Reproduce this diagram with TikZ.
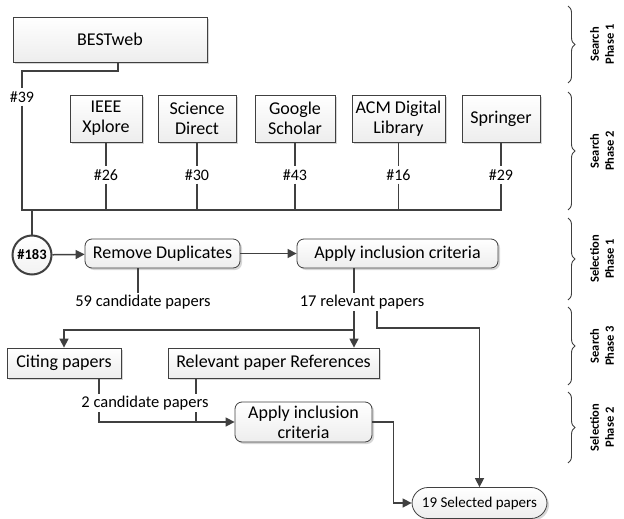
\documentclass[tikz,border=0pt]{standalone}
\usepackage{fontspec}
\setmainfont{Carlito}
\usetikzlibrary{arrows.meta,shadows,decorations.pathreplacing}
\definecolor{ln}{HTML}{404040}
\tikzset{
  x=1pt, y=-1pt,
  box/.style={draw=ln, line width=0.8pt, top color=white, bottom color=gray!14,
    drop shadow={shadow xshift=2pt, shadow yshift=-2pt, fill=gray!40, opacity=0.8},
    inner sep=0pt, align=center, font=\fontsize{18}{20}\selectfont},
  rbox/.style={box, rounded corners=7pt},
  lbl/.style={inner sep=2pt, font=\fontsize{16.5}{19}\selectfont},
  num/.style={inner sep=3pt, font=\fontsize{16}{19}\selectfont},
  conn/.style={draw=ln, line width=1.5pt},
  arr/.style={conn, -{Triangle[length=9pt,width=9pt]}},
  phase/.style={rotate=90, align=center, text=black, font=\bfseries\fontsize{12.5}{15}\selectfont},
  br/.style={draw=ln, line width=0.9pt, decorate, decoration={brace, amplitude=7pt}},
  circ/.style={draw=ln, line width=2pt, circle, minimum size=39pt, inner sep=0pt,
    top color=white, bottom color=gray!10, font=\bfseries\fontsize{14.5}{16}\selectfont}
}
\begin{document}
\begin{tikzpicture}
\useasboundingbox (0,0) rectangle (624,519);
% search phase 1
\node[box, minimum width=194pt, minimum height=45pt] (best) at (110,39.5) {BESTweb};
% search phase 2
\node[box, minimum width=72pt, minimum height=47pt] (ieee) at (106,118.5) {IEEE\\Xplore};
\node[box, minimum width=78pt, minimum height=47pt] (sd) at (197,118.5) {Science\\Direct};
\node[box, minimum width=80pt, minimum height=47pt] (gs) at (295,118.5) {Google\\Scholar};
\node[box, minimum width=93pt, minimum height=47pt] (acm) at (398.5,118.5) {ACM Digital\\Library};
\node[box, minimum width=78pt, minimum height=47pt] (spr) at (501,118.5) {Springer};
\node[num] (n39) at (22,97) {\#39};
\node[num] (n26) at (106,175) {\#26};
\node[num] (n30) at (197,175) {\#30};
\node[num] (n43) at (295,175) {\#43};
\node[num] (n16) at (398.5,175) {\#16};
\node[num] (n29) at (501,175) {\#29};
\coordinate (busL) at (22,210);
\coordinate (v0) at (118,71);
\draw[conn] (best.south -| v0) -- (v0) -| (n39.north);
\draw[conn] (n39.south) -- (busL) -| (n29.south);
\foreach \b/\n in {ieee/n26, sd/n30, gs/n43, acm/n16, spr/n29}{
  \draw[conn] (\b.south) -- (\n.north);
}
\foreach \n in {n26, n30, n43, n16}{
  \draw[conn] (\n.south) -- (\n.south |- busL);
}
% selection phase 1
\node[circ] (c183) at (32,255) {\#183};
\node[rbox, minimum width=155pt, minimum height=29pt] (rd) at (162.5,253.5) {Remove Duplicates};
\node[rbox, minimum width=201pt, minimum height=29pt] (ap1) at (397.5,253.5) {Apply inclusion criteria};
\draw[conn] (c183.north |- busL) -- (c183.north);
\draw[arr] (c183) -- (rd);
\draw[arr] (rd) -- (ap1);
\node[lbl] (n59) at (143,302) {59 candidate papers};
\node[lbl] (n17) at (362,302) {17 relevant papers};
\coordinate (v59) at (138,0);
\draw[conn] (rd.south -| v59) -- (n59.north -| v59);
% search phase 3
\node[box, minimum width=114pt, minimum height=30pt] (cit) at (64,363) {Citing papers};
\node[box, minimum width=211pt, minimum height=30pt] (rpr) at (273.5,363) {Relevant paper References};
\coordinate (v1) at (354,0);
\coordinate (v2) at (377,0);
\coordinate (j1) at (354,330);
\coordinate (j2) at (377,328);
\draw[conn] (ap1.south -| v1) -- (n17.north -| v1);
\draw[arr] (n17.south -| v1) -- (rpr.north -| v1);
\draw[arr] (j1) -| (cit.north);
% selection phase 2
\node[lbl] (n2) at (145,403) {2 candidate papers};
\node[rbox, minimum width=137pt, minimum height=40pt] (ap2) at (303.5,422) {Apply inclusion\\criteria};
\node[box, rounded corners=16pt, minimum width=135pt, minimum height=31pt,
  font=\fontsize{15}{17}\selectfont] (sel) at (479.5,503) {19 Selected papers};
\coordinate (v3) at (99,0);
\coordinate (v4) at (196,0);
\draw[conn] (cit.south -| v3) -- (n2.north -| v3);
\draw[conn] (rpr.south -| v4) -- (n2.north -| v4);
\draw[arr] (n2.south -| v3) |- (ap2.west);
\draw[conn] (n2.south -| v4) -- (v4 |- ap2.west);
\draw[arr] (n17.south -| v2) -- (j2) -| (sel.north);
\draw[arr] (ap2.east) -- ++(21,0) |- (sel.west);
% braces
\draw[br] (568,6) -- (568,83);
\draw[br] (568,92) -- (568,210);
\draw[br] (568,218) -- (568,300);
\draw[br] (568,307) -- (568,385);
\draw[br] (568,392) -- (568,463);
\node[phase] (p1) at (602,44.5) {Search\\Phase 1};
\node[phase] (p2) at (602,151) {Search\\Phase 2};
\node[phase] (p3) at (602,259) {Selection\\Phase 1};
\node[phase] (p4) at (602,346) {Search\\Phase 3};
\node[phase] (p5) at (602,427.5) {Selection\\Phase 2};
\end{tikzpicture}
\end{document}
